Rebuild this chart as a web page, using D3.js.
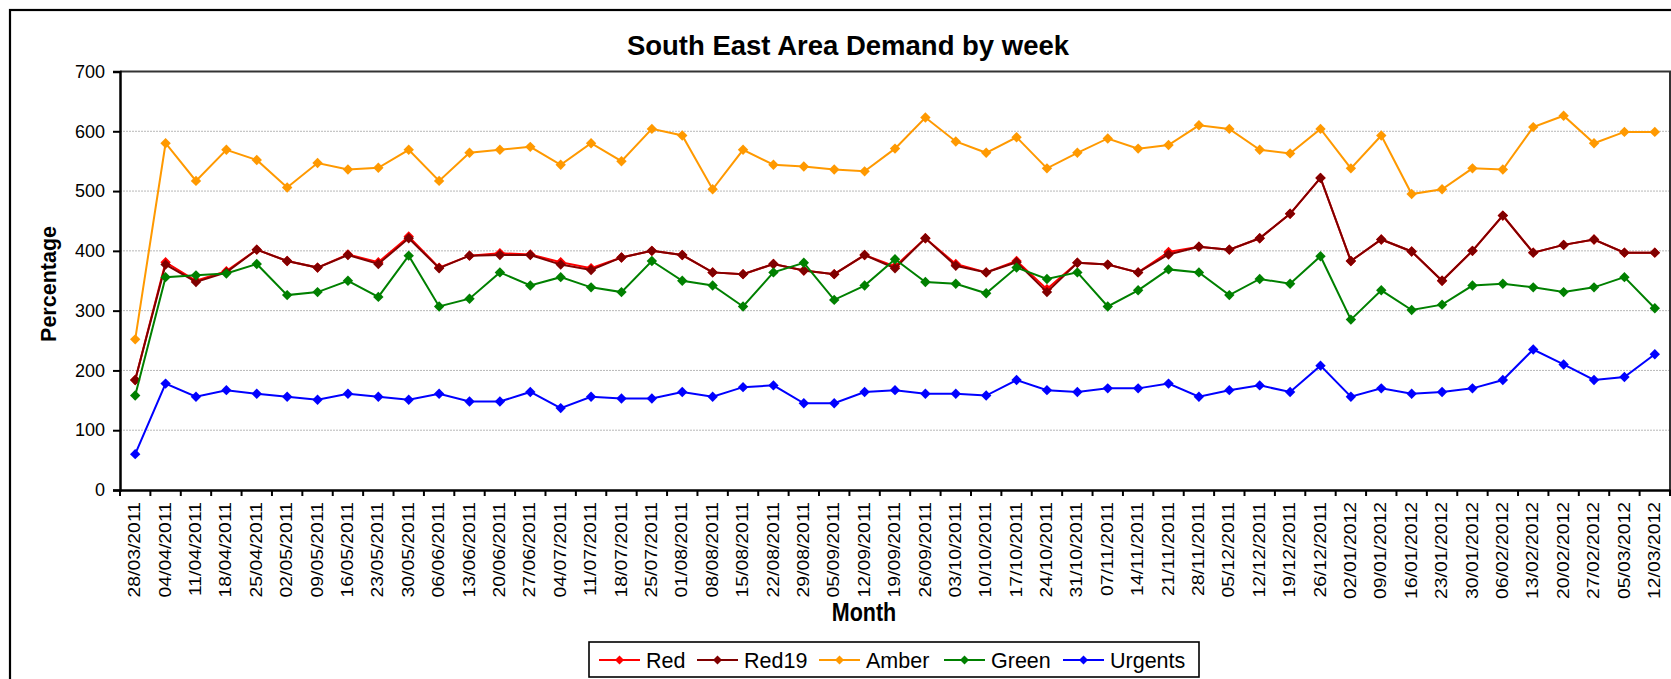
<!DOCTYPE html>
<html>
<head>
<meta charset="utf-8">
<script src="https://cdn.jsdelivr.net/npm/d3@7"></script>
<style>
  html, body { margin: 0; padding: 0; background: #fff; }
  svg { display: block; }
  text { font-family: "Liberation Sans", Arial, sans-serif; fill: #000; }
</style>
</head>
<body>
<svg id="chart" width="1671" height="679"></svg>
<script>
const categories = ["28/03/2011","04/04/2011","11/04/2011","18/04/2011","25/04/2011","02/05/2011","09/05/2011","16/05/2011","23/05/2011","30/05/2011","06/06/2011","13/06/2011","20/06/2011","27/06/2011","04/07/2011","11/07/2011","18/07/2011","25/07/2011","01/08/2011","08/08/2011","15/08/2011","22/08/2011","29/08/2011","05/09/2011","12/09/2011","19/09/2011","26/09/2011","03/10/2011","10/10/2011","17/10/2011","24/10/2011","31/10/2011","07/11/2011","14/11/2011","21/11/2011","28/11/2011","05/12/2011","12/12/2011","19/12/2011","26/12/2011","02/01/2012","09/01/2012","16/01/2012","23/01/2012","30/01/2012","06/02/2012","13/02/2012","20/02/2012","27/02/2012","05/03/2012","12/03/2012"];

const red    = [184,381,350,366,402,383,372,394,381,424,372,392,396,394,381,371,389,400,393,364,361,378,367,361,393,374,421,378,364,383,336,380,377,364,398,407,402,421,462,522,383,419,399,350,400,459,397,410,419,397,397];
const red19  = [184,377,348,364,402,383,372,393,378,421,371,392,393,393,377,368,389,400,393,364,361,378,367,361,393,371,421,375,364,381,331,380,377,364,394,407,402,421,462,522,383,419,399,350,400,459,397,410,419,397,397];
const amber  = [252,580,517,569,552,506,547,536,539,569,517,564,569,574,544,580,550,604,593,503,569,544,541,536,533,571,623,583,564,590,538,564,588,571,577,610,604,569,563,604,538,593,495,503,538,536,607,626,580,599,599];
const green  = [158,356,359,362,378,326,331,350,323,392,307,320,364,342,356,339,331,383,350,342,307,364,380,318,342,386,348,345,329,372,353,364,307,334,369,364,326,353,345,391,285,334,301,310,342,345,339,331,339,356,304];
const urgents= [60,178,156,167,161,156,151,161,156,151,161,148,148,164,137,156,153,153,164,156,172,175,145,145,164,167,161,161,158,184,167,164,170,170,178,156,167,175,164,208,156,170,161,164,170,184,235,210,184,189,227];

const seriesNames  = ["Red","Red19","Amber","Green","Urgents"];
const seriesValues = [red, red19, amber, green, urgents];
const seriesColors = ["#FF0000","#800000","#FF9900","#008000","#0000FF"];
const yTicks = [0,100,200,300,400,500,600,700];

const svg = d3.select("#chart");
const L = 120, R = 1670, T = 71.5, B = 490;

const x = d3.scaleBand().domain(categories).range([L, R]).padding(0);
const y = d3.scaleLinear().domain([0, 700]).range([B, T]);
const cx = c => x(c) + x.bandwidth() / 2;
const diamondPath = r => `M0,${-r}L${r},0L0,${r}L${-r},0Z`;

// outer chart border
svg.append("rect").attr("x", 10).attr("y", 10).attr("width", 1720).attr("height", 720)
  .attr("fill", "none").attr("stroke", "#000").attr("stroke-width", 2.2);

// title
svg.append("text").attr("x", 848).attr("y", 55).attr("text-anchor", "middle")
  .attr("font-size", 27.5).attr("font-weight", "bold").text("South East Area Demand by week");

// gridlines
svg.append("g").selectAll("line").data(yTicks.filter(d => d > 0 && d < 700)).join("line")
  .attr("x1", L).attr("x2", R).attr("y1", d => y(d)).attr("y2", d => y(d))
  .attr("stroke", "#b8b8b8").attr("stroke-width", 1).attr("stroke-dasharray", "2,1");

// plot frame (top & right)
svg.append("path").attr("d", `M${L},${T}H${R}V${B}`).attr("fill", "none")
  .attr("stroke", "#333").attr("stroke-width", 2);

// y axis
const yAxis = svg.append("g").attr("transform", `translate(${L},0)`)
  .call(d3.axisLeft(y).tickValues(yTicks).tickSize(7).tickPadding(8).tickFormat(d3.format("d")));
yAxis.select(".domain").attr("stroke", "#000").attr("stroke-width", 2.5);
yAxis.selectAll(".tick line").attr("stroke", "#000").attr("stroke-width", 2);
yAxis.selectAll("text").attr("font-size", 18).attr("font-family", "Liberation Sans, Arial, sans-serif");

// x axis: labels centered, ticks between categories
const xAxis = svg.append("g").attr("transform", `translate(0,${B})`)
  .call(d3.axisBottom(x).tickSize(0).tickPadding(0));
xAxis.select(".domain").attr("stroke", "#000").attr("stroke-width", 2.5);
xAxis.selectAll(".tick text")
  .attr("font-size", 17).attr("font-family", "Liberation Sans, Arial, sans-serif")
  .attr("text-anchor", "end")
  .attr("transform", "translate(-1,12) rotate(-90) scale(1.14,1)")
  .attr("x", 0).attr("y", 0).attr("dy", "0.36em");
const boundaries = categories.map(c => x(c)).concat([R]);
svg.append("g").selectAll("line").data(boundaries).join("line")
  .attr("x1", d => d).attr("x2", d => d).attr("y1", B).attr("y2", B + 6)
  .attr("stroke", "#000").attr("stroke-width", 2);

// axis titles
svg.append("text").attr("transform", "translate(56,284) rotate(-90)").attr("text-anchor", "middle")
  .attr("font-size", 21.5).attr("font-weight", "bold").text("Percentage");
svg.append("text").attr("transform", "translate(864,621) scale(1,1.18)").attr("text-anchor", "middle")
  .attr("font-size", 21.5).attr("font-weight", "bold").text("Month");

// series
seriesNames.forEach((name, si) => {
  const vals = seriesValues[si];
  const g = svg.append("g");
  g.append("path").datum(vals)
    .attr("d", d3.line().x((d, i) => cx(categories[i])).y(d => y(d)))
    .attr("fill", "none").attr("stroke", seriesColors[si]).attr("stroke-width", 2);
  g.selectAll("path.m").data(vals).join("path").attr("class", "m")
    .attr("transform", (d, i) => `translate(${cx(categories[i])},${y(d)})`)
    .attr("d", diamondPath(5.2))
    .attr("fill", seriesColors[si]);
});

// legend
const legendStarts = [599, 697, 819, 944, 1063];
const lg = svg.append("g");
lg.append("rect").attr("x", 589).attr("y", 642).attr("width", 610).attr("height", 35)
  .attr("fill", "#fff").attr("stroke", "#000").attr("stroke-width", 1.6);
seriesNames.forEach((name, si) => {
  const x0 = legendStarts[si], ly = 660;
  lg.append("line").attr("x1", x0).attr("x2", x0 + 41).attr("y1", ly).attr("y2", ly)
    .attr("stroke", seriesColors[si]).attr("stroke-width", 2);
  lg.append("path").attr("transform", `translate(${x0 + 20.5},${ly})`)
    .attr("d", diamondPath(4.5)).attr("fill", seriesColors[si]);
  lg.append("text").attr("x", x0 + 47).attr("y", 667.5)
    .attr("font-size", 21.5).text(name);
});
</script>
</body>
</html>
